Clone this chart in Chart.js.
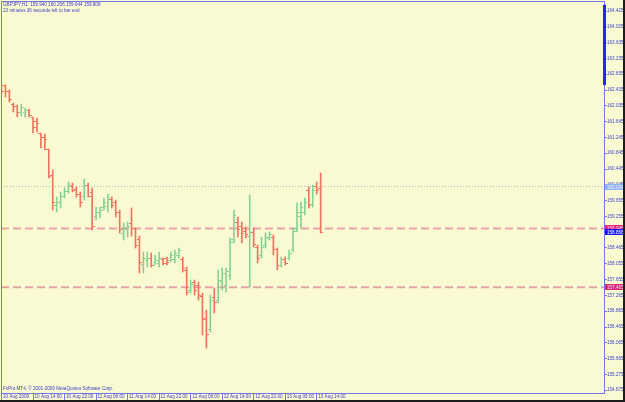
<!DOCTYPE html>
<html>
<head>
<meta charset="utf-8">
<script src="https://cdn.jsdelivr.net/npm/chart.js@4.4.1/dist/chart.umd.min.js"></script>
<style>
  html, body { margin: 0; padding: 0; background: #fafad2; }
  #wrap { width: 623px; height: 400px; border-right: 2px solid #1c1c1c; border-bottom: 2px solid #1c1c1c; }
  canvas { display: block; }
</style>
</head>
<body>
<div id="wrap"><canvas id="chart" width="623" height="400"></canvas></div>
<script>
// GBPJPY H1, 10-13 Aug 2009
const symbolTitle = "GBPJPY,H1  159.940 160.266 159.644 159.808";
const barTimer = "23 minutes 36 seconds left to bar end";
const copyright = "FxPro MT4, \u00a9 2001-2009 MetaQuotes Software Corp.";

const timeLabels = ["10 Aug 2009", "10 Aug 14:00", "10 Aug 22:00", "11 Aug 06:00", "11 Aug 14:00",
  "11 Aug 22:00", "12 Aug 06:00", "12 Aug 14:00", "12 Aug 22:00", "13 Aug 06:00", "13 Aug 14:00"];
const timeTickBars = [0, 8, 16, 24, 32, 40, 48, 56, 64, 72, 80];

const priceTicks = [164.425, 164.025, 163.635, 163.235, 162.835, 162.435, 162.035, 161.645, 161.245,
  160.845, 160.445, 160.045, 159.655, 159.255, 158.855, 158.465, 158.055, 157.655, 157.265,
  156.865, 156.465, 156.065, 155.665, 155.275, 154.875];

const opens = [162.561, 162.536, 162.410, 162.082, 162.007, 161.881, 161.856, 161.931, 161.730, 161.654,
  161.327, 161.251, 160.924, 160.269, 159.538, 159.589, 159.765, 159.891, 160.017, 159.941,
  159.815, 159.765, 160.042, 159.841, 159.261, 159.337, 159.463, 159.513, 159.689, 159.589,
  159.362, 158.833, 158.909, 159.085, 158.934, 158.657, 158.052, 158.153, 158.203, 158.102,
  158.077, 158.178, 158.203, 158.153, 158.178, 158.254, 158.178, 157.901, 157.397, 157.574,
  157.523, 157.246, 156.692, 156.390, 157.196, 157.145, 157.599, 157.523, 157.775, 158.657,
  159.110, 159.009, 158.883, 158.757, 158.858, 158.480, 158.254, 158.506, 158.707, 158.732,
  158.405, 158.027, 158.178, 158.203, 158.405, 158.934, 159.261, 159.362, 159.916, 159.563,
  159.992, 159.966];
const highs = [162.586, 162.561, 162.435, 162.108, 162.057, 162.082, 161.982, 161.956, 161.755, 161.730,
  161.352, 161.327, 160.949, 160.420, 159.740, 159.866, 159.966, 160.118, 160.092, 159.992,
  159.866, 160.193, 160.092, 159.966, 159.488, 159.488, 159.715, 159.815, 159.740, 159.664,
  159.412, 159.085, 159.110, 159.463, 158.959, 158.757, 158.354, 158.354, 158.329, 158.279,
  158.354, 158.203, 158.228, 158.354, 158.405, 158.455, 158.228, 157.977, 157.649, 157.649,
  157.599, 157.322, 156.893, 157.271, 157.448, 157.901, 157.951, 157.951, 158.707, 159.412,
  159.236, 159.110, 158.984, 159.790, 158.959, 158.531, 158.732, 158.833, 158.858, 158.783,
  158.455, 158.228, 158.228, 158.405, 158.959, 159.589, 159.614, 159.715, 159.992, 160.042,
  160.118, 160.344];
const lows = [162.359, 162.259, 162.133, 161.881, 161.755, 161.780, 161.755, 161.755, 161.352, 161.377,
  160.974, 160.924, 160.218, 159.412, 159.362, 159.463, 159.715, 159.841, 159.866, 159.740,
  159.488, 159.664, 159.740, 158.909, 159.160, 159.211, 159.412, 159.362, 159.463, 159.236,
  158.833, 158.657, 158.732, 158.757, 158.455, 157.825, 157.825, 157.977, 157.977, 158.027,
  157.977, 158.027, 158.027, 158.102, 158.077, 158.203, 157.851, 157.271, 157.322, 157.271,
  157.145, 156.264, 155.936, 156.339, 156.818, 157.070, 157.397, 157.347, 157.649, 158.581,
  158.732, 158.581, 158.707, 157.473, 158.480, 158.077, 158.203, 158.455, 158.657, 158.279,
  157.901, 157.977, 158.027, 158.153, 158.354, 158.858, 158.959, 159.286, 159.463, 159.488,
  159.815, 158.833];
const closes = [162.385, 162.410, 162.208, 162.032, 161.881, 161.982, 161.931, 161.805, 161.503, 161.579,
  161.251, 161.176, 160.244, 159.614, 159.614, 159.765, 159.866, 160.042, 159.916, 159.815,
  159.589, 160.042, 159.765, 159.009, 159.362, 159.412, 159.589, 159.715, 159.538, 159.362,
  158.909, 158.984, 159.009, 158.959, 158.506, 158.102, 158.203, 158.203, 158.027, 158.153,
  158.203, 158.077, 158.102, 158.279, 158.329, 158.380, 157.951, 157.322, 157.548, 157.397,
  157.271, 156.642, 156.264, 157.145, 157.070, 157.649, 157.825, 157.851, 158.606, 159.286,
  158.909, 158.833, 158.783, 158.858, 158.531, 158.203, 158.480, 158.732, 158.808, 158.405,
  158.027, 158.178, 158.077, 158.329, 158.883, 159.337, 159.488, 159.589, 159.538, 159.916,
  159.916, 158.858];

const dottedLevel = 160.004;
const dashedLevels = [158.945, 157.465];
const bidPrice = 158.858;
const scrollMark = [164.58, 162.56];

const xMin = -0.13, xMax = 152.92;
const yMin = 154.803, yMax = 164.677;

const UP = "#85d394", DOWN = "#f2725f";
const AXIS = "#7676ee", TEXT = "#3c3cc8";
const FONT = "Liberation Sans";
const SMALL = 4.6;

function tickImage(color, left) {
  const c = document.createElement("canvas");
  c.width = 5; c.height = 1;
  const g = c.getContext("2d");
  g.fillStyle = color;
  g.fillRect(left ? 0 : 3, 0, 2, 1);
  return c;
}
const ticksImg = {
  upOpen: tickImage(UP, true), upClose: tickImage(UP, false),
  downOpen: tickImage(DOWN, true), downClose: tickImage(DOWN, false)
};

const isUp = closes.map((c, i) => c >= opens[i]);
const barColors = isUp.map(u => (u ? UP : DOWN));

const levelLine = (y) => [{ x: xMin, y }, { x: xMax, y }];

const noPadding = (s) => { s.paddingTop = 0; s.paddingBottom = 0; s.paddingLeft = 0; s.paddingRight = 0; };

const overlay = {
  id: "overlay",
  afterDraw(chart) {
    const { ctx, chartArea: a, scales: { y } } = chart;
    ctx.save();
    ctx.strokeStyle = AXIS;
    ctx.lineWidth = 1;
    ctx.strokeRect(a.left + 0.5, a.top + 0.5, a.right - a.left, a.bottom - a.top);

    // thick mark on the price scale
    ctx.fillStyle = "#2626f0";
    const s0 = y.getPixelForValue(scrollMark[0]), s1 = y.getPixelForValue(scrollMark[1]);
    ctx.fillRect(a.right - 1, s0, 3, s1 - s0);

    ctx.font = SMALL + "px '" + FONT + "'";
    ctx.fillStyle = TEXT;
    ctx.textBaseline = "middle";
    ctx.textAlign = "left";
    ctx.fillText(symbolTitle, a.left + 2, a.top + 4);
    ctx.fillText(barTimer, a.left + 2, a.top + 9.5);
    ctx.fillText(copyright, a.left + 2, a.bottom - 4.5);

    // price tags on the right scale
    const tag = (price, bg, fg, dy) => {
      const py = Math.round(y.getPixelForValue(price)) + dy;
      ctx.fillStyle = bg;
      ctx.fillRect(a.right + 1, py - 3, 19, 6);
      ctx.fillStyle = fg;
      ctx.fillText(price.toFixed(3), a.right + 3, py + 0.5);
    };
    tag(dottedLevel, "#8fb2f0", "#e8eeff", 0);
    tag(dashedLevels[0], "#de2a82", "#f8c8e0", -1);
    tag(bidPrice, "#1414f4", "#ffffff", 0);
    tag(dashedLevels[1], "#d8287c", "#f8d0e4", 0);
    ctx.restore();
  }
};

new Chart(document.getElementById("chart"), {
  type: "bar",
  data: {
    datasets: [
      {
        type: "bar",
        data: lows.map((l, i) => ({ x: i, y: [l, highs[i]] })),
        backgroundColor: barColors,
        barThickness: 1,
        grouped: false,
        order: 1
      },
      {
        type: "line",
        data: opens.map((o, i) => ({ x: i, y: o })),
        showLine: false,
        pointRadius: 2,
        pointStyle: (c) => (isUp[c.dataIndex] ? ticksImg.upOpen : ticksImg.downOpen),
        order: 0
      },
      {
        type: "line",
        data: closes.map((v, i) => ({ x: i, y: v })),
        showLine: false,
        pointRadius: 2,
        pointStyle: (c) => (isUp[c.dataIndex] ? ticksImg.upClose : ticksImg.downClose),
        order: 0
      },
      {
        type: "line",
        data: levelLine(dottedLevel),
        borderColor: "#a9b0d4",
        borderWidth: 1,
        borderDash: [1, 2],
        pointRadius: 0,
        order: 5
      },
      ...dashedLevels.map(lv => ({
        type: "line",
        data: levelLine(lv),
        borderColor: "#e8a2a8",
        borderWidth: 2,
        borderDash: [8, 4],
        pointRadius: 0,
        order: 5
      }))
    ]
  },
  options: {
    responsive: false,
    animation: false,
    events: [],
    layout: { autoPadding: false, padding: { left: 1, top: 1, right: 0, bottom: 0 } },
    plugins: { legend: { display: false }, tooltip: { enabled: false } },
    scales: {
      x: {
        type: "linear",
        min: xMin,
        max: xMax,
        offset: false,
        afterBuildTicks: (s) => { s.ticks = timeTickBars.map(v => ({ value: v })); },
        afterFit: (s) => { s.height = 7; noPadding(s); },
        border: { display: false },
        grid: { drawOnChartArea: false, drawTicks: true, tickLength: 7, tickColor: AXIS, offset: false },
        ticks: {
          autoSkip: false,
          maxRotation: 0,
          align: "start",
          padding: -6,
          labelOffset: 1.5,
          color: TEXT,
          font: { family: FONT, size: SMALL },
          callback: (v) => timeLabels[timeTickBars.indexOf(v)]
        }
      },
      y: {
        position: "right",
        min: yMin,
        max: yMax,
        afterBuildTicks: (s) => { s.ticks = priceTicks.map(v => ({ value: v })); },
        afterFit: (s) => { s.width = 19; noPadding(s); },
        border: { display: false },
        grid: { drawOnChartArea: false, drawTicks: true, tickLength: 3, tickColor: AXIS },
        ticks: {
          autoSkip: false,
          padding: 0,
          color: TEXT,
          font: { family: FONT, size: SMALL },
          callback: (v) => v.toFixed(3)
        }
      }
    }
  },
  plugins: [overlay]
});
</script>
</body>
</html>
